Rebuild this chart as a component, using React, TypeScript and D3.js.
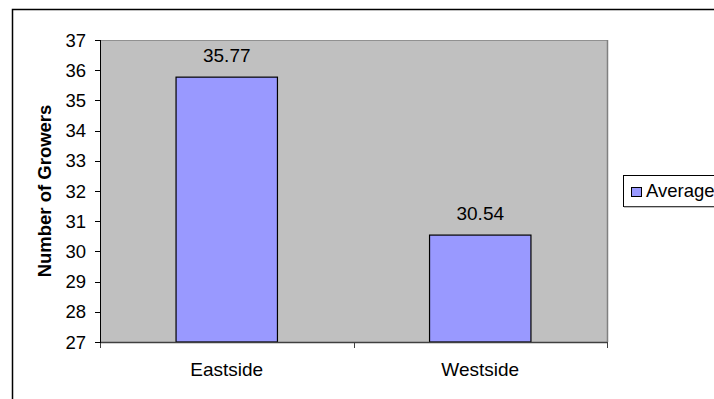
import React from "react";
import * as d3 from "d3";

const categories = ["Eastside", "Westside"];
const averages = [35.77, 30.54];
const yTicks = [27, 28, 29, 30, 31, 32, 33, 34, 35, 36, 37];
const seriesName = "Average";
const yTitle = "Number of Growers";

export default function App() {
  const W = 714, H = 399;
  const left = 100, right = 607, top = 40, bottom = 342;
  const x = d3.scaleBand().domain(categories).range([left, right]).paddingInner(0).paddingOuter(0);
  const y = d3.scaleLinear().domain([27, 37]).range([bottom, top]);
  const barW = x.bandwidth() * 0.4;
  const font = "'Liberation Sans', Arial, sans-serif";
  const boundaries = [left, ...categories.map((c) => (x(c) as number) + x.bandwidth())];
  return (
    <svg width={W} height={H} style={{ position: "absolute", left: 0, top: 0 }} fontFamily={font}>
      <rect x={0} y={0} width={W} height={H} fill="#fff" />
      <rect x={12.5} y={9.5} width={760} height={460} fill="none" stroke="#000" strokeWidth={1.5} />
      <rect x={left} y={top} width={right - left} height={bottom - top} fill="#C0C0C0" />
      <line x1={left} y1={top + 0.5} x2={right} y2={top + 0.5} stroke="#909090" strokeWidth={1} />
      <line x1={right + 0.5} y1={top} x2={right + 0.5} y2={bottom} stroke="#808080" strokeWidth={1.5} />
      {categories.map((c, i) => {
        const cx = (x(c) as number) + x.bandwidth() / 2;
        return (
          <g key={c}>
            <rect x={cx - barW / 2} y={y(averages[i])} width={barW} height={bottom - y(averages[i])}
              fill="#9999FF" stroke="#000" strokeWidth={1.2} />
            <text x={cx} y={y(averages[i]) - 15.5} textAnchor="middle" fontSize={19} fill="#000">
              {averages[i].toFixed(2)}
            </text>
            <text x={cx} y={376} textAnchor="middle" fontSize={19} fill="#000">{c}</text>
          </g>
        );
      })}
      <line x1={left} y1={bottom + 0.5} x2={right} y2={bottom + 0.5} stroke="#404040" strokeWidth={1.5} />
      {boundaries.map((b, i) => (
        <line key={i} x1={Math.round(b) + 0.5} y1={bottom} x2={Math.round(b) + 0.5} y2={bottom + 6} stroke="#404040" strokeWidth={1} />
      ))}
      <line x1={left + 0.5} y1={top} x2={left + 0.5} y2={bottom + 1} stroke="#000" strokeWidth={1} />
      {yTicks.map((t) => (
        <g key={t}>
          <line x1={95} y1={Math.round(y(t)) + 0.5} x2={left} y2={Math.round(y(t)) + 0.5} stroke="#000" />
          <text x={86} y={y(t) + 6.5} textAnchor="end" fontSize={18.5} fill="#000">{t}</text>
        </g>
      ))}
      <text transform={`translate(51,${(top + bottom) / 2}) rotate(-90)`} textAnchor="middle" fontSize={18.5} fontWeight="bold" fill="#000">
        {yTitle}
      </text>
      <rect x={623.5} y={175.5} width={120} height={31} fill="#fff" stroke="#000" strokeWidth={1} />
      <line x1={624} y1={207} x2={714} y2={207} stroke="#808080" strokeWidth={1} />
      <rect x={631.5} y={187.5} width={10} height={9} fill="#9999FF" stroke="#000" strokeWidth={1} />
      <text x={646} y={197} fontSize={18.5} fill="#000">{seriesName}</text>
    </svg>
  );
}
